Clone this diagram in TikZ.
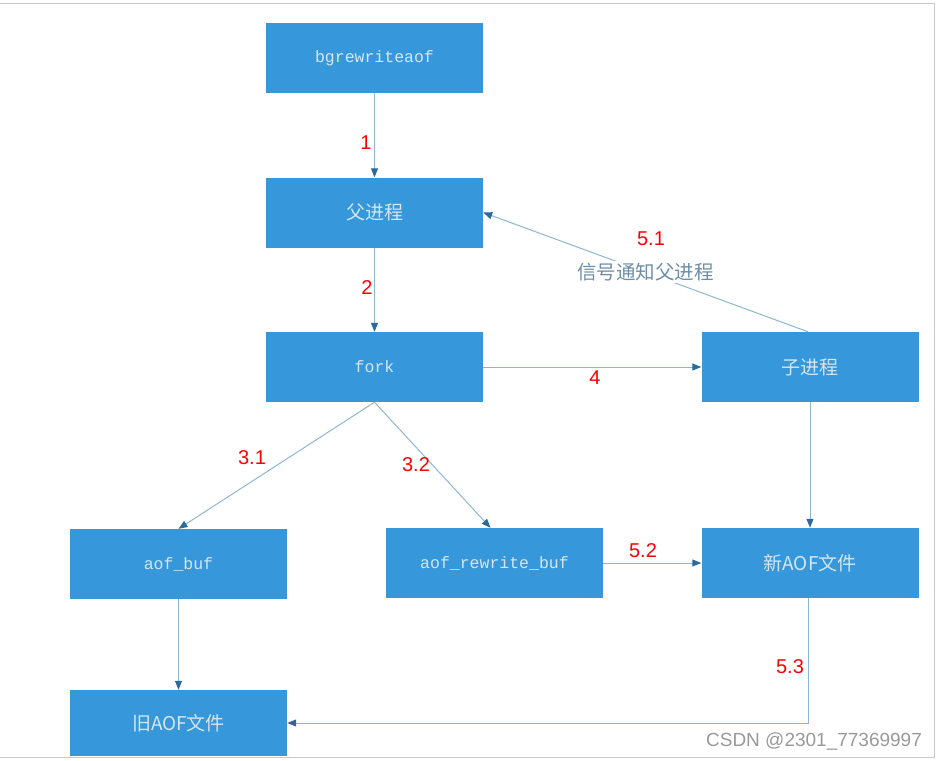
\documentclass[tikz,border=0pt]{standalone}
\usepackage{fontspec}
\setmainfont{Liberation Sans}
\newfontfamily\cjk{Noto Sans CJK SC}
\newfontfamily\boxmono{Liberation Mono}
\usetikzlibrary{arrows.meta}
\definecolor{boxblue}{HTML}{3698DA}
\definecolor{boxtext}{HTML}{D4E6F4}
\definecolor{linecol}{HTML}{8DB6D4}
\definecolor{tipcol}{HTML}{2D6A9C}
\definecolor{lbltext}{HTML}{6E8EA8}
\definecolor{framecol}{HTML}{C8C8C8}
\tikzset{
  stepbox/.style={draw=none, fill=boxblue, minimum width=217pt, minimum height=70pt, inner sep=0pt, text=boxtext, font=\boxmono\fontsize{16.5}{18}\selectfont},
  cnbox/.style={stepbox, font=\cjk\fontsize{19}{21}\selectfont},
  conn/.style={draw=linecol, line width=1pt, -{Triangle[length=9pt,width=7pt,color=tipcol]}},
  num/.style={text=red, font=\fontsize{20}{22}\selectfont, inner sep=0pt}
}
\begin{document}
\begin{tikzpicture}[x=1pt,y=-1pt]
\useasboundingbox (0,0) rectangle (936,760);
% frame
\draw[framecol, line width=1pt] (0,3.5) -- (934.5,3.5) -- (934.5,757.5) -- (0,757.5);
% boxes
\node[stepbox] (bg) at (374.5,58) {bgrewriteaof};
\node[cnbox] (parent) at (374.5,212.5) {父进程};
\node[stepbox] (fork) at (374.5,367) {fork};
\node[cnbox] (child) at (810,367) {子进程};
\node[stepbox] (aofbuf) at (178.5,564) {aof\_buf};
\node[stepbox] (arb) at (494.5,563) {aof\_rewrite\_buf};
\node[cnbox] (newaof) at (810,563) {新AOF文件};
\node[cnbox, minimum height=66pt] (oldaof) at (178.5,723) {旧AOF文件};
% connectors
\draw[conn] (bg.south) -- (parent.north);
\draw[conn] (parent.south) -- (fork.north);
\draw[conn] (fork.east) -- (child.west);
\draw[conn] ([xshift=-2pt]child.north) -- node[fill=white, inner sep=2pt, text=lbltext, font=\cjk\fontsize{19.5}{21}\selectfont] (sig) {信号通知父进程} (parent.east);
\draw[conn] (fork.south) -- (aofbuf.north);
\draw[conn] (fork.south) -- ([xshift=-4pt]arb.north);
\draw[conn] (child.south) -- (newaof.north);
\draw[conn] (arb.east) -- (newaof.west);
\draw[conn] (aofbuf.south) -- (oldaof.north);
\draw[conn] ([xshift=-2pt]newaof.south) |- (oldaof.east);
% step numbers
\node[num] (n1) at (366,143) {1};
\node[num] (n2) at (367,288) {2};
\node[num] (n4) at (595,378) {4};
\node[num] (n51) at (651,239) {5.1};
\node[num] (n31) at (252,458) {3.1};
\node[num] (n32) at (416,465) {3.2};
\node[num] (n52) at (643,551) {5.2};
\node[num] (n53) at (790,667) {5.3};
% watermark
\node[text=gray!80, font=\fontsize{19}{21}\selectfont, inner sep=0pt] (wm) at (814,741) {CSDN @2301\_77369997};
\end{tikzpicture}
\end{document}
